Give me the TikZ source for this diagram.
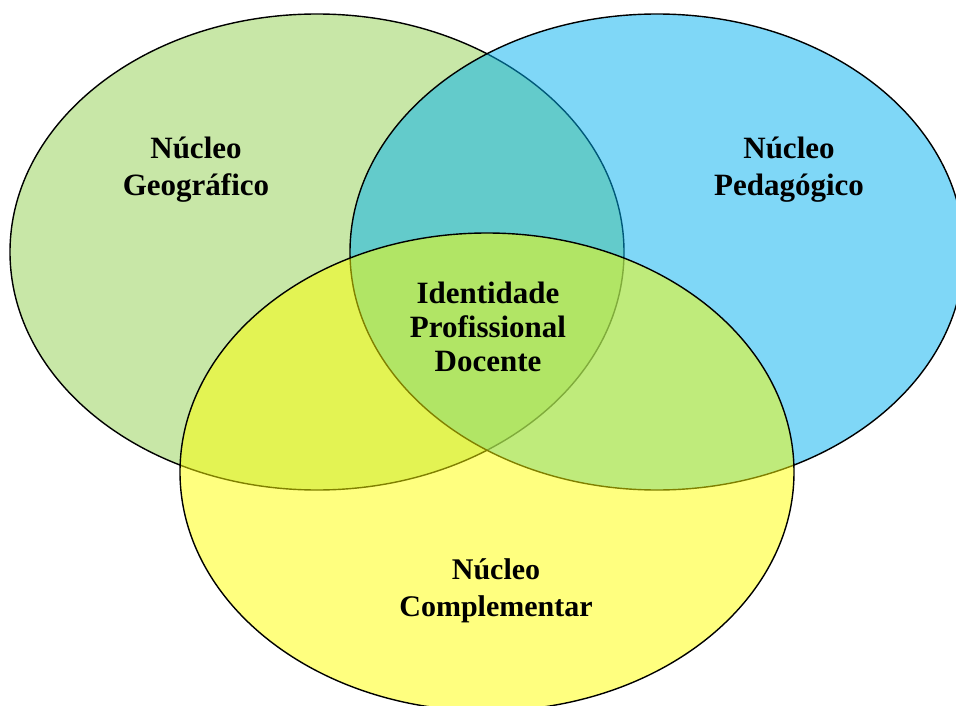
\documentclass[tikz,border=0pt]{standalone}
\usepackage{fontspec}
\setmainfont{Liberation Serif}
\definecolor{cgreen}{RGB}{146,208,80}
\definecolor{cblue}{RGB}{0,176,240}
\definecolor{cyellow}{RGB}{255,255,0}
\begin{document}
\begin{tikzpicture}[x=1pt,y=-1pt,
  circ/.style={draw=black,line width=1.4pt,fill opacity=0.5},
  lbl/.style={align=center,font=\bfseries\fontsize{31}{37}\selectfont,inner sep=0pt}]
\fill[white] (0,0) rectangle (956,706);
\useasboundingbox (0,0) rectangle (956,706);
\clip (0,0) rectangle (956,706);
\draw[circ,fill=cgreen] (317,252) ellipse [x radius=307,y radius=238];
\draw[circ,fill=cblue] (657,252) ellipse [x radius=307,y radius=238];
\draw[circ,fill=cyellow] (487,472) ellipse [x radius=307,y radius=239];
\node[lbl] (geo) at (196,170) {Núcleo\\Geográfico};
\node[lbl] (ped) at (789,170) {Núcleo\\Pedagógico};
\node[lbl,font=\bfseries\fontsize{31}{34}\selectfont] (ipd) at (488,327) {Identidade\\Profissional\\Docente};
\node[lbl,font=\bfseries\fontsize{30}{37}\selectfont] (comp) at (496,591) {Núcleo\\Complementar};
\end{tikzpicture}
\end{document}
